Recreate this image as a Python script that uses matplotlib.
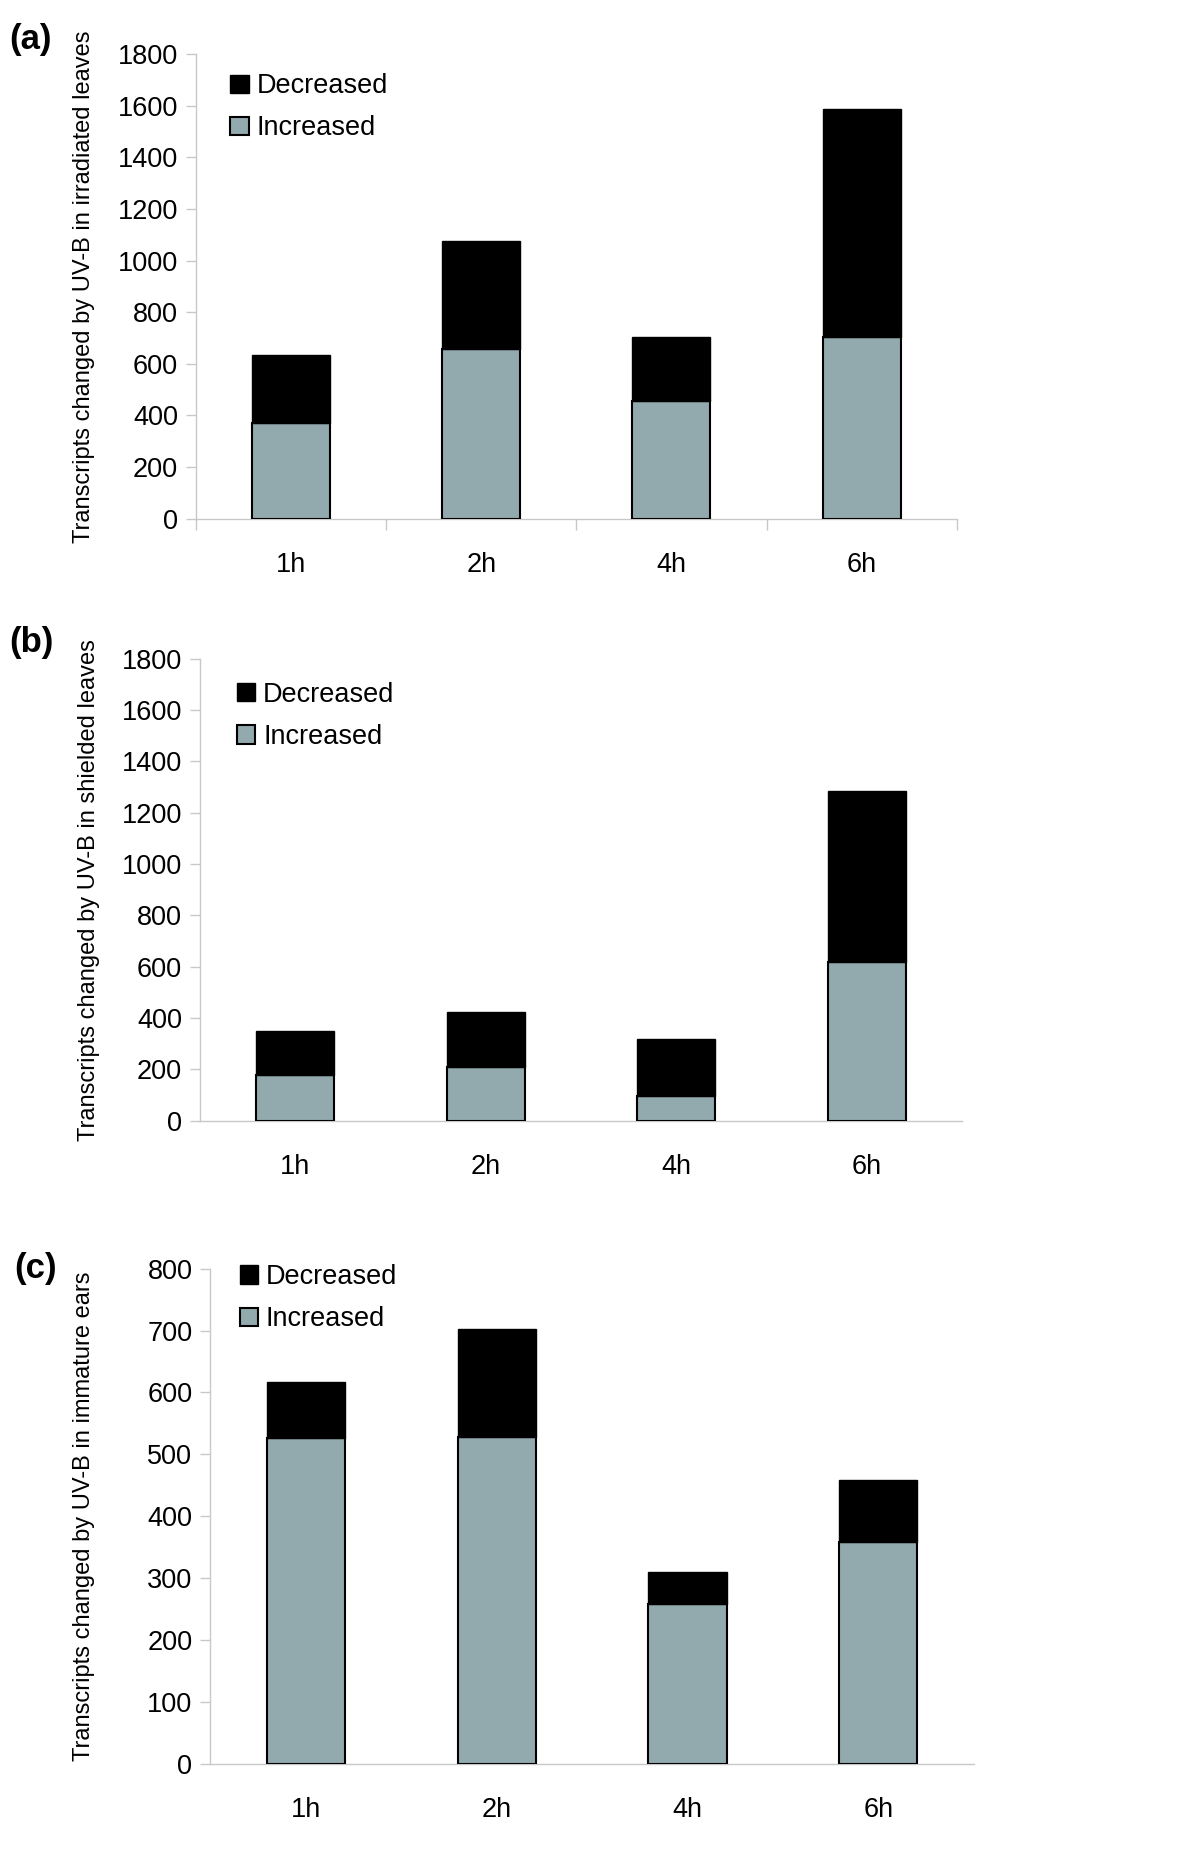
import matplotlib.pyplot as plt
from matplotlib.patches import Patch
import numpy as np

plt.rcParams['font.family'] = ['Liberation Sans', 'DejaVu Sans']

# time points
hours = ['1h', '2h', '4h', '6h']

# (a) irradiated leaves
irr_increased = [371, 656, 455, 703]
irr_total = [635, 1075, 704, 1588]

# (b) shielded leaves
shl_increased = [176, 209, 94, 619]
shl_total = [351, 425, 319, 1283]

# (c) immature ears
ear_increased = [526, 528, 258, 358]
ear_total = [617, 703, 310, 459]

ylabels = ['Transcripts changed by UV-B in irradiated leaves',
           'Transcripts changed by UV-B in shielded leaves',
           'Transcripts changed by UV-B in immature ears']
panel_tags = ['(a)', '(b)', '(c)']

inc_color = '#92a9ae'
axis_gray = '#c8c8c8'

fig = plt.figure(figsize=(12, 18.63), dpi=100)

# axes boxes in figure fraction: left, bottom, width, height
boxes = [[0.1633, 0.7216, 0.634, 0.2494],
         [0.1667, 0.3985, 0.635, 0.2479],
         [0.1754, 0.0533, 0.636, 0.2657]]
ylims = [1800, 1800, 800]
ysteps = [200, 200, 100]
ylab_x = [-0.133, -0.131, -0.151]
leg_anchor = [(0.031, 0.982), (0.034, 0.974), (0.024, 1.031)]
tag_pos = [(0.008, 0.979), (0.008, 0.655), (0.012, 0.319)]

datasets = [(irr_increased, irr_total),
            (shl_increased, shl_total),
            (ear_increased, ear_total)]

for i, (inc, tot) in enumerate(datasets):
    ax = fig.add_axes(boxes[i])
    x = np.arange(len(hours))
    inc = np.array(inc)
    dec = np.array(tot) - inc
    ax.bar(x, inc, width=0.41, color=inc_color, edgecolor='black', linewidth=1.5, zorder=3)
    ax.bar(x, dec, bottom=inc, width=0.41, color='black', edgecolor='black', linewidth=1.0, zorder=3)

    ax.set_xlim(-0.5, len(hours) - 0.5)
    ax.set_ylim(0, ylims[i])
    ax.set_yticks(np.arange(0, ylims[i] + 1, ysteps[i]))
    ax.set_xticks(x)
    ax.set_xticklabels(hours)
    ax.set_xticks(np.arange(-0.5, len(hours)), minor=True)

    for s in ['top', 'right']:
        ax.spines[s].set_visible(False)
    for s in ['left', 'bottom']:
        ax.spines[s].set_color(axis_gray)
        ax.spines[s].set_linewidth(1.0)

    ax.tick_params(axis='y', labelsize=19.5, length=7, width=1, color=axis_gray, pad=6)
    ax.tick_params(axis='x', which='major', labelsize=19.5, length=0, pad=24)
    if i == 0:
        ax.tick_params(axis='x', which='minor', length=8, width=1, color=axis_gray)
    else:
        ax.tick_params(axis='x', which='minor', length=0)

    ax.set_ylabel(ylabels[i], fontsize=17)
    ax.yaxis.set_label_coords(ylab_x[i], 0.5)

    handles = [Patch(facecolor='black', edgecolor='black', label='Decreased'),
               Patch(facecolor=inc_color, edgecolor='black', linewidth=1.5, label='Increased')]
    ax.legend(handles=handles, loc='upper left', bbox_to_anchor=leg_anchor[i],
              frameon=False, fontsize=19.5, handlelength=0.67, handleheight=0.67,
              handletextpad=0.3, labelspacing=0.6, borderaxespad=0)

    fig.text(tag_pos[i][0], tag_pos[i][1], panel_tags[i], fontsize=25,
             fontweight='bold', va='center', ha='left')

fig.savefig('out.png', dpi=100)
